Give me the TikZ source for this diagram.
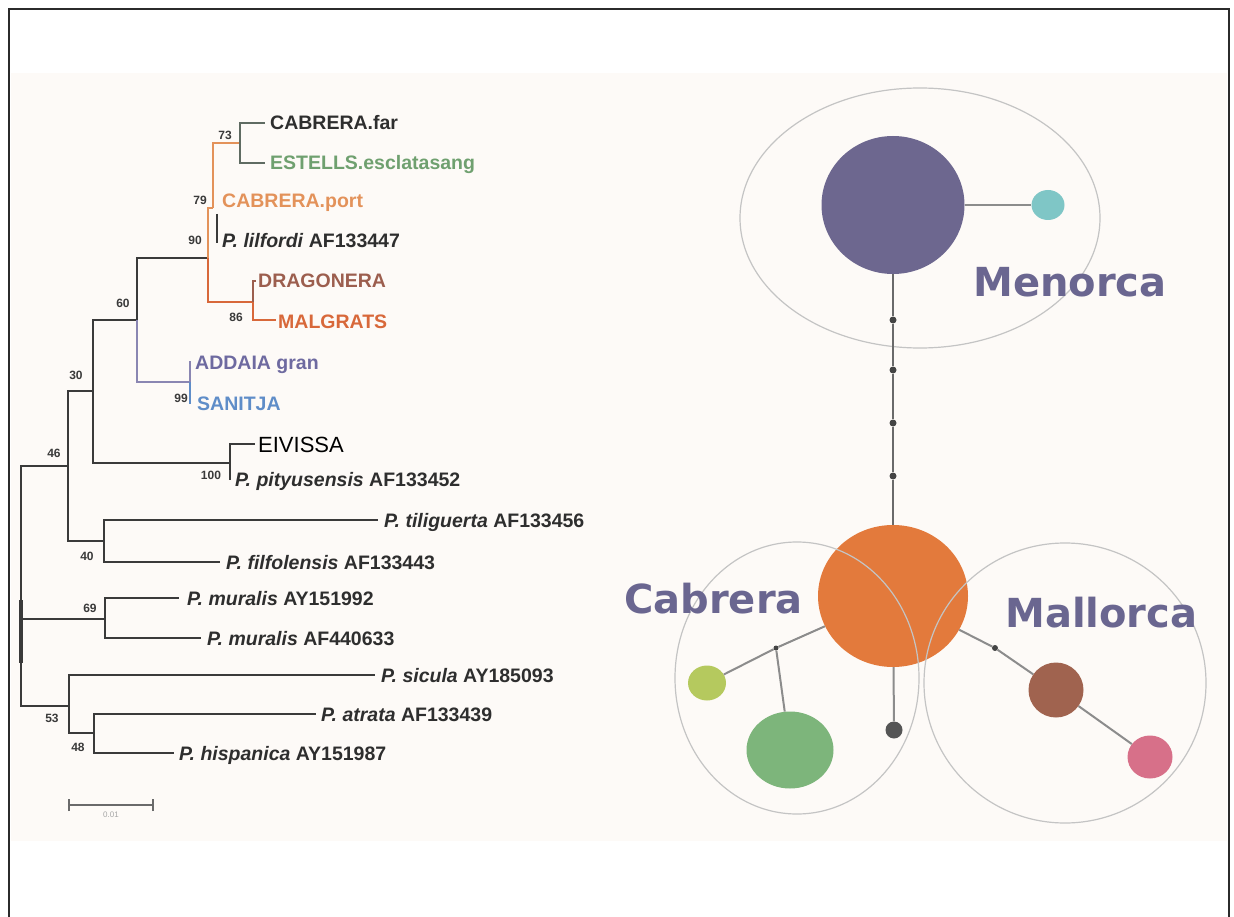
\documentclass[tikz,border=0pt]{standalone}
\usepackage{fontspec}
\setmainfont{Liberation Sans}
\newfontfamily\djv{DejaVu Sans}
\usetikzlibrary{shapes.geometric}
\definecolor{panel}{HTML}{FDFAF7}
\definecolor{framec}{HTML}{2B2B2B}
\definecolor{treek}{HTML}{3A3A3A}
\definecolor{txtk}{HTML}{2E2E2E}
\definecolor{grg}{HTML}{5F6B62}
\definecolor{orl}{HTML}{E3925A}
\definecolor{orr}{HTML}{D8683A}
\definecolor{brn}{HTML}{9C5E4E}
\definecolor{grt}{HTML}{6FA06F}
\definecolor{purt}{HTML}{6E6AA0}
\definecolor{purbr}{HTML}{8A86B2}
\definecolor{blu}{HTML}{5F8DC8}
\definecolor{netpur}{HTML}{6D678F}
\definecolor{netteal}{HTML}{7FC6C6}
\definecolor{netor}{HTML}{E37A3C}
\definecolor{netlime}{HTML}{B5C95E}
\definecolor{netgreen}{HTML}{7DB57B}
\definecolor{netdark}{HTML}{555555}
\definecolor{netbrown}{HTML}{A0634F}
\definecolor{netpink}{HTML}{D77089}
\definecolor{islc}{HTML}{6A6690}
\definecolor{regg}{HTML}{C4C4C4}
\definecolor{conng}{HTML}{8C8C8C}
\definecolor{vertg}{HTML}{6A6A6A}
\definecolor{snpc}{HTML}{444444}
\definecolor{scg}{HTML}{6A6A6A}
\begin{document}
\begin{tikzpicture}[x=1pt,y=-1pt,
  br/.style={line width=1.7pt, draw=treek, line join=miter},
  tip/.style={anchor=base west, inner sep=0pt, font=\fontsize{19.5}{20}\selectfont\bfseries, text=txtk},
  bt/.style={inner sep=0pt, font=\fontsize{12}{12}\selectfont\bfseries, text=treek},
  blob/.style={ellipse, draw=none, inner sep=0pt},
  conn/.style={draw=conng, line width=2pt},
  region/.style={draw=regg, line width=1.2pt},
  isl/.style={anchor=base west, inner sep=0pt, font=\djv\bfseries\fontsize{40}{40}\selectfont, text=islc},
  snp/.style={circle, fill=snpc, inner sep=0pt, minimum size=7pt}]
\useasboundingbox (0,0) rectangle (1234,917);
\fill[white] (0,0) rectangle (1234,917);
\fill[panel] (11,73) rectangle (1227,841);
\draw[draw=framec, line width=2.6pt] (9,917) -- (9,9) -- (1229,9) -- (1229,917);

% ---------------- tree coordinates ----------------
\coordinate (r) at (21,585);
\coordinate (rt1) at (21,600);
\coordinate (rt2) at (21,663);
\coordinate (n46) at (68,466);
\coordinate (n30) at (93,391);
\coordinate (n60) at (137,320);
\coordinate (n90) at (208,258);
\coordinate (n79) at (213,208);
\coordinate (n73) at (240,143);
\coordinate (n86) at (253,302);
\coordinate (n99) at (190,382);
\coordinate (n100) at (230,463);
\coordinate (n40) at (104,541);
\coordinate (n69) at (105,619);
\coordinate (n53) at (69,706);
\coordinate (n48) at (94,733);
\coordinate (tcf) at (265,123);
\coordinate (tes) at (265,163);
\coordinate (tpl1) at (217,214);
\coordinate (tpl2) at (217,243);
\coordinate (tdr) at (256,281);
\coordinate (tma) at (276,320);
\coordinate (tad) at (191,362);
\coordinate (tsa) at (191,403);
\coordinate (tei) at (255,444);
\coordinate (tpp) at (231,479);
\coordinate (tpt) at (378,520);
\coordinate (tpf) at (220,562);
\coordinate (tm1) at (179,598);
\coordinate (tm2) at (201,638);
\coordinate (tsi) at (375,675);
\coordinate (tat) at (316,714);
\coordinate (thi) at (174,753);

% ---------------- tree branches ----------------
\draw[br] (r) |- (n46);
\draw[br] (r) |- (n69);
\draw[br] (r) |- (n53);
\draw[treek, line width=3.4pt] (rt1) -- (rt2);
\draw[br] (n46) |- (n30);
\draw[br] (n46) |- (n40);
\draw[br] (n30) |- (n60);
\draw[br] (n30) |- (n100);
\draw[br] (n60) |- (n90);
\draw[br, draw=purbr] (n60) |- (n99);
\draw[br, draw=orl] (n90) |- (n79);
\draw[br, draw=orr] (n90) |- (n86);
\draw[br, draw=orl] (n79) |- (n73);
\draw[treek, line width=1.3pt] (tpl1) -- (tpl2);
\draw[br, draw=grg] (n73) |- (tcf);
\draw[br, draw=grg] (n73) |- (tes);
\draw[br, draw=brn] (n86) |- (tdr);
\draw[br, draw=orr] (n86) |- (tma);
\draw[br, draw=purbr] (n99) |- (tad);
\draw[br, draw=blu] (n99) |- (tsa);
\draw[br] (n100) |- (tei);
\draw[br] (n100) |- (tpp);
\draw[br] (n40) |- (tpt);
\draw[br] (n40) |- (tpf);
\draw[br] (n69) |- (tm1);
\draw[br] (n69) |- (tm2);
\draw[br] (n53) |- (tsi);
\draw[br] (n53) |- (n48);
\draw[br] (n48) |- (tat);
\draw[br] (n48) |- (thi);

% ---------------- tip labels ----------------
\node[tip] (lcf) at (270,130) {CABRERA.far};
\node[tip, text=grt] (les) at (270,170) {ESTELLS.esclatasang};
\node[tip, text=orl] (lcp) at (222,208) {CABRERA.port};
\node[tip] (lpl) at (222,248) {\textit{P. lilfordi} AF133447};
\node[tip, text=brn] (ldr) at (258,288) {DRAGONERA};
\node[tip, text=orr] (lma) at (278,328) {MALGRATS};
\node[tip, text=purt] (lad) at (195,369) {ADDAIA gran};
\node[tip, text=blu] (lsa) at (197,410) {SANITJA};
\node[tip, font=\fontsize{22}{22}\selectfont, text=black] (lei) at (258,452) {EIVISSA};
\node[tip] (lpp) at (235,486) {\textit{P. pityusensis} AF133452};
\node[tip] (lpt) at (384,527) {\textit{P. tiliguerta} AF133456};
\node[tip] (lpf) at (226,569) {\textit{P. filfolensis} AF133443};
\node[tip] (lm1) at (187,605) {\textit{P. muralis} AY151992};
\node[tip] (lm2) at (207,645) {\textit{P. muralis} AF440633};
\node[tip] (lsi) at (381,682) {\textit{P. sicula} AY185093};
\node[tip] (lat) at (321,721) {\textit{P. atrata} AF133439};
\node[tip] (lhi) at (179,760) {\textit{P. hispanica} AY151987};

% ---------------- bootstrap values ----------------
\node[bt] (b73) at (225,135) {73};
\node[bt] (b79) at (200,200) {79};
\node[bt] (b90) at (195,240) {90};
\node[bt] (b86) at (236,317) {86};
\node[bt] (b60) at (123,303) {60};
\node[bt] (b99) at (181,398) {99};
\node[bt] (b30) at (76,375) {30};
\node[bt] (b46) at (54,453) {46};
\node[bt] (b100) at (211,475) {100};
\node[bt] (b40) at (87,556) {40};
\node[bt] (b69) at (90,608) {69};
\node[bt] (b53) at (52,718) {53};
\node[bt] (b48) at (78,747) {48};

% ---------------- scale bar ----------------
\coordinate (sb1) at (69,805);
\coordinate (sb2) at (153,805);
\draw[draw=scg, line width=1.6pt] (sb1) -- (sb2);
\draw[draw=scg, line width=1.6pt] ([yshift=-6pt]sb1) -- ([yshift=6pt]sb1);
\draw[draw=scg, line width=1.6pt] ([yshift=-6pt]sb2) -- ([yshift=6pt]sb2);
\node[inner sep=0pt, font=\fontsize{8}{8}\selectfont, text=gray!70] (sbl) at (111,815) {0.01};

% ---------------- haplotype network ----------------
\node[blob, fill=netor, minimum width=150pt, minimum height=142pt] (hor) at (893,596) {};
\node[blob, fill=netpur, minimum width=143pt, minimum height=138pt] (hpu) at (893,205) {};
\node[blob, fill=netteal, minimum width=33pt, minimum height=30pt] (hte) at (1048,205) {};
\node[blob, fill=netlime, minimum width=38pt, minimum height=35pt] (hli) at (707,683) {};
\node[blob, fill=netgreen, minimum width=87pt, minimum height=77pt] (hgr) at (790,750) {};
\node[blob, fill=netdark, minimum width=17pt, minimum height=17pt] (hdk) at (894,730) {};
\node[blob, fill=netbrown, minimum width=55pt, minimum height=55pt] (hbr) at (1056,690) {};
\node[blob, fill=netpink, minimum width=45pt, minimum height=43pt] (hpk) at (1150,757) {};
\node[snp, minimum size=5pt] (jc) at (776,648) {};
\node[snp, minimum size=6pt] (jm) at (995,648) {};
\node[snp] (d1) at (893,320) {};
\node[snp] (d2) at (893,370) {};
\node[snp] (d3) at (893,423) {};
\node[snp] (d4) at (893,476) {};

% region outlines
\draw[region] (920,218) ellipse [x radius=180pt, y radius=130pt];
\draw[region] (797,678) ellipse [x radius=122pt, y radius=136pt];
\draw[region] (1065,683) ellipse [x radius=141pt, y radius=140pt];

% connectors
\draw[conn] (hpu) -- (hte);
\draw[draw=vertg, line width=1.8pt] (hpu) -- (d1);
\draw[draw=vertg, line width=1.8pt] (d1) -- (d2);
\draw[draw=vertg, line width=1.8pt] (d2) -- (d3);
\draw[draw=vertg, line width=1.8pt] (d3) -- (d4);
\draw[draw=vertg, line width=1.8pt] (d4) -- (hor);
\draw[conn] (hor) -- (jc);
\draw[conn] (jc) -- (hli);
\draw[conn] (jc) -- (hgr);
\draw[conn] (hor) -- (hdk);
\draw[conn] (hor) -- (jm);
\draw[conn] (jm) -- (hbr);
\draw[conn] (hbr) -- (hpk);

% island labels
\node[isl] (tmen) at (973,297) {Menorca};
\node[isl] (tcab) at (624,613) {Cabrera};
\node[isl] (tmal) at (1005,627) {Mallorca};
\end{tikzpicture}
\end{document}
